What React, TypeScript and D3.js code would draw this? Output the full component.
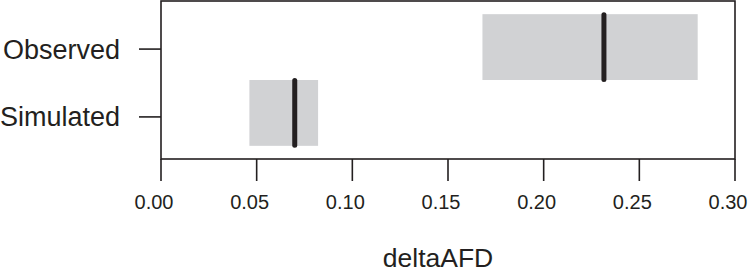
import React from "react";
import * as d3 from "d3";

const categories = ["Observed", "Simulated"];
const catPos = [2, 1];
const lowerValues = [0.168, 0.0462];
const upperValues = [0.2805, 0.0821];
const medianValues = [0.2315, 0.0699];
const xTicks = [0, 0.05, 0.1, 0.15, 0.2, 0.25, 0.3];
const xLabel = "deltaAFD";

const W = 748;
const H = 269;
const FONT = "'Liberation Sans', Arial, Helvetica, sans-serif";
const INK = "#231f20";

export default function App() {
  const x = d3.scaleLinear().domain([0, 0.3]).range([161, 735]);
  const y = d3.scaleLinear().domain([0.3, 2.7]).range([159, 1]);
  const tickNudge = [2, 4];
  const fmt = d3.format(".2f");
  return (
    <svg
      width={W}
      height={H}
      style={{ position: "fixed", left: 0, top: 0, background: "#fff" }}
    >
      <rect x={0} y={0} width={W} height={H} fill="#fff" />
      {categories.map((c, i) => (
        <rect
          key={"b" + c}
          x={x(lowerValues[i])}
          y={y(catPos[i] + 0.5)}
          width={x(upperValues[i]) - x(lowerValues[i])}
          height={y(catPos[i] - 0.5) - y(catPos[i] + 0.5)}
          fill="#d1d2d4"
        />
      ))}
      {categories.map((c, i) => (
        <line
          key={"m" + c}
          x1={x(medianValues[i])}
          x2={x(medianValues[i])}
          y1={y(catPos[i] + 0.5) + 0.5}
          y2={y(catPos[i] - 0.5) - 0.5}
          stroke={INK}
          strokeWidth={5}
          strokeLinecap="round"
        />
      ))}
      <rect
        x={x(0)}
        y={y(2.7)}
        width={x(0.3) - x(0)}
        height={y(0.3) - y(2.7)}
        fill="none"
        stroke={INK}
        strokeWidth={1.6}
      />
      {categories.map((c, i) => {
        const yy = y(catPos[i]) + tickNudge[i];
        return (
          <g key={"t" + c}>
            <line x1={139} x2={161} y1={yy} y2={yy} stroke={INK} strokeWidth={1.6} />
            <text
              x={120}
              y={yy}
              dy="0.35em"
              textAnchor="end"
              fontFamily={FONT}
              fontSize={27}
              fill={INK}
            >
              {c}
            </text>
          </g>
        );
      })}
      {xTicks.map((t) => (
        <g key={"x" + t}>
          <line x1={x(t)} x2={x(t)} y1={159} y2={181} stroke={INK} strokeWidth={1.6} />
          <text
            x={x(t) - 7}
            y={208.5}
            textAnchor="middle"
            fontFamily={FONT}
            fontSize={20}
            fill={INK}
          >
            {fmt(t)}
          </text>
        </g>
      ))}
      <text
        x={(x(0) + x(0.3)) / 2 - 10}
        y={266.5}
        textAnchor="middle"
        fontFamily={FONT}
        fontSize={26.5}
        fill={INK}
      >
        {xLabel}
      </text>
    </svg>
  );
}
